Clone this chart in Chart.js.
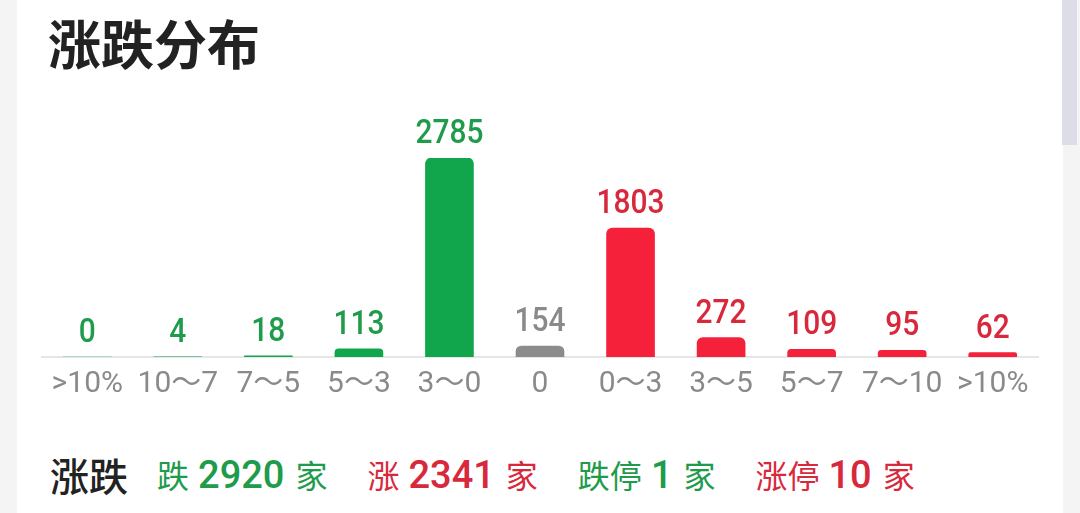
<!DOCTYPE html>
<html>
<head>
<meta charset="utf-8">
<script src="https://cdn.jsdelivr.net/npm/chart.js@4.4.1/dist/chart.umd.min.js"></script>
<style>
  html, body { margin: 0; padding: 0; background: #fff; }
  body { width: 1080px; height: 513px; position: relative; overflow: hidden; font-family: "Noto Sans CJK SC", Roboto, sans-serif; }
  .side-l { position: absolute; left: 0; top: 0; width: 17px; height: 513px; background: #f4f4f4; }
  .side-r { position: absolute; left: 1063px; top: 0; width: 17px; height: 513px; background: #f4f4f4; }
  .thumb { position: absolute; left: 1062px; top: 0; width: 15px; height: 145px; background: #dcdde6; }
  h1 { position: absolute; left: 48px; top: 4px; margin: 0; font-size: 53px; font-weight: 700; color: #222; line-height: 76px; letter-spacing: 0px; }
  #wrap { position: absolute; left: 0; top: 0; width: 1080px; height: 403px; }
  .summary { position: absolute; left: 50px; top: 446px; height: 56px; display: flex; align-items: center; white-space: nowrap; color: #222; }
  .summary .head { font-size: 39px; font-weight: 500; margin-right: 29px; }
  .summary .item { font-size: 32px; margin-right: 40px; }
  .summary b { font-family: Roboto, sans-serif; font-size: 38px; font-weight: 500; margin: 0 11px 0 9px; }
  .dn { color: #1f9b4c; }
  .up { color: #d8283c; }
</style>
</head>
<body>
<div class="side-l"></div>
<div class="side-r"></div>
<div class="thumb"></div>
<h1>涨跌分布</h1>
<div id="wrap"><canvas id="distChart"></canvas></div>
<div class="summary" id="summary"></div>
<script>
const categories = ['>10%', '10～7', '7～5', '5～3', '3～0', '0', '0～3', '3～5', '5～7', '7～10', '>10%'];
const counts = [0, 4, 18, 113, 2785, 154, 1803, 272, 109, 95, 62];
const direction = ['down', 'down', 'down', 'down', 'down', 'flat', 'up', 'up', 'up', 'up', 'up'];

const summaryNames = ['跌', '涨', '跌停', '涨停'];
const summaryValues = [2920, 2341, 1, 10];
const summaryDir = ['down', 'up', 'down', 'up'];

const barColors = { down: '#12a64c', flat: '#8c8c8c', up: '#f5213b' };
const textColors = { down: '#1f9b4c', flat: '#8a8a8a', up: '#d8283c' };

// summary row under the chart
let html = '<span class="head">涨跌</span>';
summaryNames.forEach((n, i) => {
    const cls = summaryDir[i] === 'up' ? 'up' : 'dn';
    html += '<span class="item ' + cls + '">' + n + '<b>' + summaryValues[i] + '</b>家</span>';
});
document.getElementById('summary').innerHTML = html;

// numbers above the bars, a bit narrower than Roboto like the app font
const valueLabels = {
    id: 'valueLabels',
    afterDatasetsDraw(chart) {
        const ctx = chart.ctx;
        const meta = chart.getDatasetMeta(0);
        meta.data.forEach((bar, i) => {
            ctx.save();
            ctx.translate(bar.x, bar.y - 15);
            ctx.scale(0.88, 1);
            ctx.font = '500 34px Roboto, "Noto Sans CJK SC", sans-serif';
            ctx.textAlign = 'center';
            ctx.textBaseline = 'alphabetic';
            ctx.fillStyle = textColors[direction[i]];
            ctx.fillText(String(counts[i]), 0, 0);
            ctx.restore();
        });
    }
};

window._distChart = new Chart(document.getElementById('distChart'), {
    type: 'bar',
    data: {
        labels: categories,
        datasets: [{
            data: counts,
            backgroundColor: direction.map(d => barColors[d]),
            borderRadius: { topLeft: 6, topRight: 6 },
            borderSkipped: 'bottom',
            barThickness: 48
        }]
    },
    options: {
        responsive: true,
        maintainAspectRatio: false,
        animation: false,
        layout: { padding: { top: 158, left: 42, right: 42, bottom: 0 } },
        plugins: { legend: { display: false }, tooltip: { enabled: false } },
        scales: {
            x: {
                grid: { display: false },
                border: { display: true, color: '#e6e6e6', width: 2 },
                ticks: {
                    color: '#8a8a8a',
                    padding: 1,
                    font: { size: 30, family: 'Roboto, "Noto Sans CJK SC", sans-serif' },
                    maxRotation: 0,
                    autoSkip: false
                }
            },
            y: {
                display: false,
                min: 0,
                max: Math.max(...counts)
            }
        }
    },
    plugins: [valueLabels]
});
</script>
</body>
</html>
